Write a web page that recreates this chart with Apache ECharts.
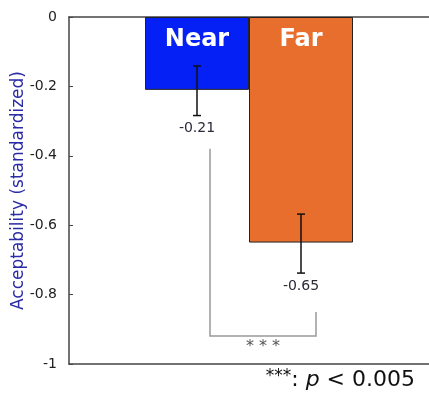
<!DOCTYPE html>
<html>
<head>
<meta charset="utf-8">
<script src="https://cdn.jsdelivr.net/npm/echarts@6/dist/echarts.min.js"></script>
<style>
  html, body { margin: 0; padding: 0; background: #fff; }
  #chart { width: 429px; height: 394px; }
</style>
</head>
<body>
<div id="chart"></div>
<script>
// data
var groups = ['Near', 'Far'];
var means = [-0.21, -0.65];
var errLow = [-0.284, -0.738];
var errHigh = [-0.141, -0.568];
var meanLabels = ['-0.21', '-0.65'];
var bracketTop = [-0.38, -0.85];   // left leg (Near), right leg (Far)
var bracketBottom = -0.919;
var sigMark = '* * *';
var yTicks = { min: -1, max: 0, step: 0.2 };

var barW = 104;
var colors = ['#0520F5', '#E86E2E'];

var chart = echarts.init(document.getElementById('chart'));

var barSeries = groups.map(function (g, i) {
    return {
        name: g,
        type: 'bar',
        barWidth: barW,
        barGap: '0%',
        data: [means[i]],
        itemStyle: { color: colors[i], borderColor: '#222', borderWidth: 1 },
        label: {
            show: true,
            position: 'insideTop',
            distance: 11,
            formatter: g,
            color: '#fff',
            fontSize: 24,
            fontWeight: 'bold',
            fontFamily: 'DejaVu Sans'
        },
        silent: true
    };
});

var errData = groups.map(function (g, i) {
    return [0, i, errLow[i], errHigh[i]];
});

var frameLine = { show: true, onZero: false, lineStyle: { color: '#444', width: 1.5 } };

var option = {
    animation: false,
    backgroundColor: '#fff',
    grid: { left: 69, right: 0, top: 17, bottom: 30, outerBoundsMode: 'none', containLabel: false },
    xAxis: [
        {
            type: 'category',
            data: [''],
            position: 'bottom',
            axisLine: frameLine,
            axisTick: { show: false },
            axisLabel: { show: false },
            splitLine: { show: false }
        },
        {
            type: 'category',
            data: [''],
            position: 'top',
            axisLine: frameLine,
            axisTick: { show: false },
            axisLabel: { show: false },
            splitLine: { show: false }
        }
    ],
    yAxis: {
        type: 'value',
        min: yTicks.min,
        max: yTicks.max,
        interval: yTicks.step,
        name: 'Acceptability (standardized)',
        nameLocation: 'middle',
        nameGap: 42,
        nameMoveOverlap: false,
        nameTextStyle: { color: '#2B2BA6', fontSize: 17, fontFamily: 'DejaVu Sans' },
        axisLine: { show: true, lineStyle: { color: '#444', width: 1.5 } },
        axisTick: { show: true, inside: true, length: 4, lineStyle: { color: '#444' } },
        axisLabel: { color: '#222', fontSize: 14, margin: 12, fontFamily: 'DejaVu Sans' },
        splitLine: { show: false }
    },
    series: barSeries.concat([
        {
            type: 'custom',
            silent: true,
            z: 5,
            data: errData,
            renderItem: function (params, api) {
                var i = api.value(1);
                var off = (i - 0.5) * barW;
                var lo = api.coord([0, api.value(2)]);
                var hi = api.coord([0, api.value(3)]);
                var x = lo[0] + off;
                var st = { stroke: '#111', lineWidth: 1.5 };
                return {
                    type: 'group',
                    children: [
                        { type: 'line', shape: { x1: x, y1: hi[1], x2: x, y2: lo[1] }, style: st },
                        { type: 'line', shape: { x1: x - 4, y1: hi[1], x2: x + 4, y2: hi[1] }, style: st },
                        { type: 'line', shape: { x1: x - 4, y1: lo[1], x2: x + 4, y2: lo[1] }, style: st },
                        {
                            type: 'text',
                            style: {
                                x: x, y: lo[1] + 6,
                                text: meanLabels[i],
                                align: 'center', verticalAlign: 'top',
                                fill: '#2a2a3a', fontSize: 14, fontFamily: 'DejaVu Sans'
                            }
                        }
                    ]
                };
            }
        },
        {
            type: 'custom',
            silent: true,
            z: 5,
            data: [[0, bracketTop[0], bracketTop[1], bracketBottom]],
            renderItem: function (params, api) {
                var a = api.coord([0, api.value(1)]);
                var b = api.coord([0, api.value(2)]);
                var c = api.coord([0, api.value(3)]);
                var xl = a[0] - barW / 2 + 13;
                var xr = a[0] + barW / 2 + 15;
                return {
                    type: 'group',
                    children: [
                        {
                            type: 'polyline',
                            shape: { points: [[xl, a[1]], [xl, c[1]], [xr, c[1]], [xr, b[1]]] },
                            style: { stroke: '#999', lineWidth: 1.5, fill: null }
                        },
                        {
                            type: 'text',
                            style: {
                                x: (xl + xr) / 2, y: c[1] + 3,
                                text: sigMark,
                                align: 'center', verticalAlign: 'top',
                                fill: '#555', fontSize: 16, fontFamily: 'DejaVu Sans'
                            }
                        }
                    ]
                };
            }
        }
    ]),
    graphic: [
        {
            type: 'text',
            right: 14,
            top: 368,
            style: {
                text: '{s|***}{n|: }{i|p}{n| < 0.005}',
                rich: {
                    s: { fontSize: 17, fontFamily: 'DejaVu Sans', fill: '#111', verticalAlign: 'top', padding: [0, 0, 8, 0] },
                    n: { fontSize: 22, fontFamily: 'DejaVu Sans', fill: '#111' },
                    i: { fontSize: 22, fontFamily: 'DejaVu Sans', fontStyle: 'italic', fill: '#111' }
                }
            }
        }
    ]
};

chart.setOption(option);
</script>
</body>
</html>
